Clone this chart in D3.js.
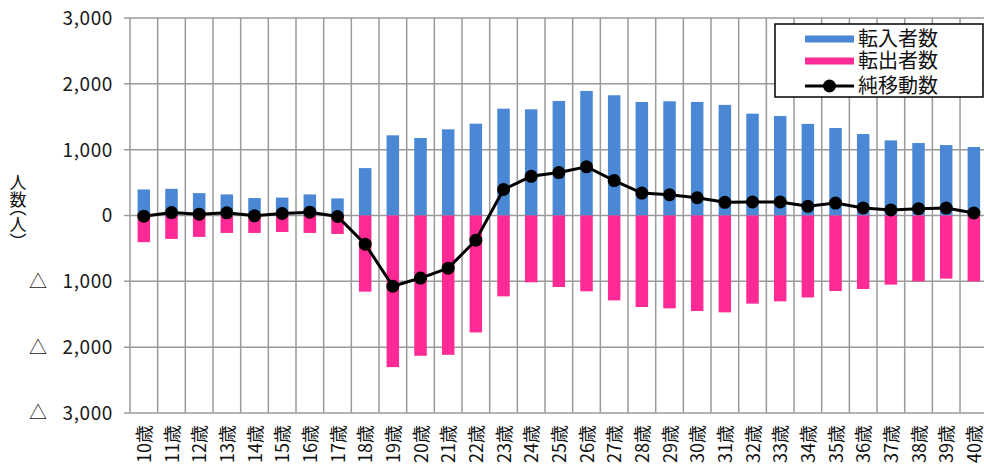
<!DOCTYPE html>
<html><head><meta charset="utf-8">
<script src="https://cdn.jsdelivr.net/npm/d3@7"></script>
<style>body{margin:0;background:#fff}svg{display:block}</style>
</head><body>
<svg id="c" width="984" height="470"></svg>
<script>
const categories = ["10歳","11歳","12歳","13歳","14歳","15歳","16歳","17歳","18歳","19歳","20歳","21歳","22歳","23歳","24歳","25歳","26歳","27歳","28歳","29歳","30歳","31歳","32歳","33歳","34歳","35歳","36歳","37歳","38歳","39歳","40歳"];
const inflow  = [395,405,340,320,265,272,320,260,720,1218,1177,1309,1395,1623,1613,1740,1892,1826,1725,1735,1725,1680,1547,1512,1392,1329,1237,1141,1101,1070,1040];
const outflow = [405,355,325,265,265,250,265,280,1157,2303,2131,2116,1776,1228,1015,1086,1152,1289,1390,1410,1451,1471,1339,1304,1245,1147,1116,1050,1000,959,1000];
const net     = [-10,45,20,40,-5,30,50,-15,-435,-1075,-950,-800,-375,395,595,652,740,530,340,315,270,200,205,205,140,188,115,85,103,113,38];
const yTicks  = [3000,2000,1000,0,-1000,-2000,-3000];
const legendLabels = ["転入者数","転出者数","純移動数"];
const yTitle = "人数（人）";

const svg = d3.select("#c");
const font = "'Noto Sans CJK JP','Noto Sans',sans-serif";
const L = 130, R = 987.7, T = 18, B = 413;
const x = d3.scaleBand().domain(categories).range([L, R]).padding(0);
const y = d3.scaleLinear().domain([-3000, 3000]).range([B, T]);
const grid = "#9a9a9a";

// horizontal gridlines
svg.append("g").selectAll("line").data(yTicks).join("line")
  .attr("x1", L - 6).attr("x2", R).attr("y1", d => y(d)).attr("y2", d => y(d))
  .attr("stroke", grid).attr("stroke-width", 1.5);
// vertical gridlines at band boundaries
svg.append("g").selectAll("line").data(categories).join("line")
  .attr("x1", d => x(d)).attr("x2", d => x(d)).attr("y1", T).attr("y2", B)
  .attr("stroke", grid).attr("stroke-width", 1.5);

// y tick labels
const fmt = d3.format(",");
const yl = svg.append("g");
yl.selectAll("text.n").data(yTicks).join("text").attr("class", "n")
  .attr("x", 113).attr("y", d => y(d)).attr("dy", "0.36em")
  .attr("text-anchor", "end").attr("font-family", font).attr("font-size", 19)
  .style("letter-spacing", "0.6px").attr("fill", "#1a1a1a")
  .text(d => fmt(Math.abs(d)));
yl.selectAll("text.t").data(yTicks.filter(d => d < 0)).join("text").attr("class", "t")
  .attr("x", 38).attr("y", d => y(d)).attr("dy", "0.36em")
  .attr("text-anchor", "middle").attr("font-family", font).attr("font-size", 18).attr("fill", "#1a1a1a")
  .text("△");

// y axis title, vertical writing
svg.append("text").attr("x", 18).attr("y", 174)
  .attr("font-family", font).attr("font-size", 17).attr("fill", "#111")
  .style("writing-mode", "vertical-rl")
  .style("font-feature-settings", "'vhal' 1")
  .text(yTitle);

// bars
const bw = 12.5;
const cx = d => x(d) + x.bandwidth() / 2;
svg.append("g").selectAll("rect").data(categories).join("rect")
  .attr("x", d => cx(d) - bw / 2).attr("width", bw)
  .attr("y", (d, i) => y(inflow[i])).attr("height", (d, i) => y(0) - y(inflow[i]))
  .attr("fill", "#4a88d6");
svg.append("g").selectAll("rect").data(categories).join("rect")
  .attr("x", d => cx(d) - bw / 2).attr("width", bw)
  .attr("y", y(0)).attr("height", (d, i) => y(-outflow[i]) - y(0))
  .attr("fill", "#ff2a96");

// net line
const line = d3.line().x(d => cx(d.c)).y(d => y(d.v));
const pts = categories.map((c, i) => ({c, v: net[i]}));
svg.append("path").datum(pts).attr("d", line).attr("fill", "none")
  .attr("stroke", "#000").attr("stroke-width", 3);
svg.append("g").selectAll("circle").data(pts).join("circle")
  .attr("cx", d => cx(d.c)).attr("cy", d => y(d.v)).attr("r", 6.5).attr("fill", "#000");

// x labels
svg.append("g").selectAll("text").data(categories).join("text")
  .attr("transform", d => `translate(${cx(d) - 1},425) rotate(-90)`)
  .attr("text-anchor", "end").attr("dominant-baseline", "central")
  .attr("font-family", font).attr("font-size", 18).attr("fill", "#111")
  .text(d => d);

// legend
const lg = svg.append("g");
lg.append("rect").attr("x", 775).attr("y", 24).attr("width", 208).attr("height", 73)
  .attr("fill", "#fff").attr("stroke", "#000").attr("stroke-width", 1.5);
const rows = [39, 61, 86];
lg.append("rect").attr("x", 805).attr("y", rows[0] - 3.5).attr("width", 49).attr("height", 7).attr("fill", "#4a88d6");
lg.append("rect").attr("x", 805).attr("y", rows[1] - 3.5).attr("width", 49).attr("height", 7).attr("fill", "#ff2a96");
lg.append("line").attr("x1", 805).attr("x2", 854).attr("y1", rows[2]).attr("y2", rows[2]).attr("stroke", "#000").attr("stroke-width", 3);
lg.append("circle").attr("cx", 829.5).attr("cy", rows[2]).attr("r", 6.5).attr("fill", "#000");
lg.selectAll("text.l").data(legendLabels).join("text").attr("class", "l")
  .attr("x", 858).attr("y", (d, i) => rows[i]).attr("dy", "0.36em")
  .attr("font-family", font).attr("font-size", 20).attr("fill", "#111").text(d => d);
</script>
</body></html>
